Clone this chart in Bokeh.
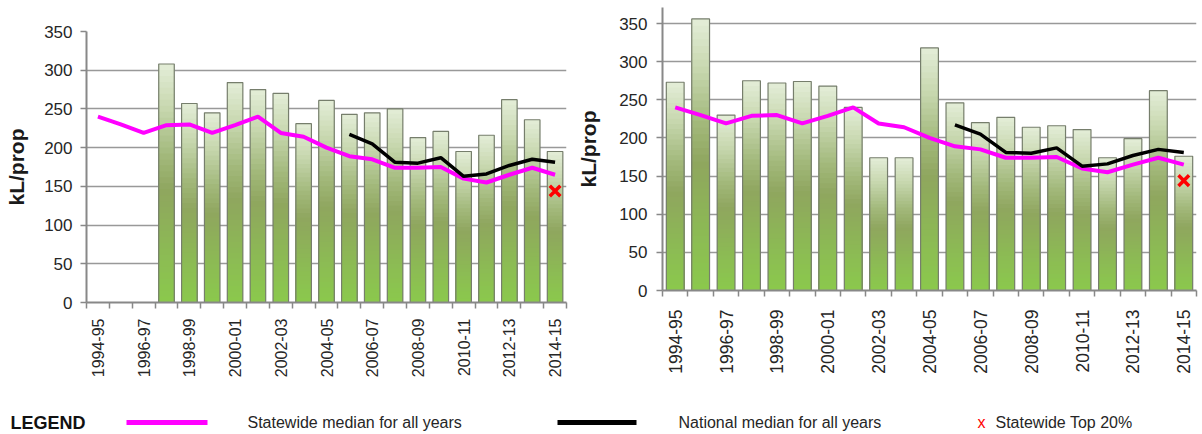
import math
from bokeh.plotting import figure
from bokeh.layouts import column, row
from bokeh.models import FixedTicker, Range1d
from bokeh.core.properties import value
from bokeh.embed import file_html
from bokeh.resources import INLINE

# ---------------- data ----------------
years = ["1994-95", "1995-96", "1996-97", "1997-98", "1998-99", "1999-00",
         "2000-01", "2001-02", "2002-03", "2003-04", "2004-05", "2005-06",
         "2006-07", "2007-08", "2008-09", "2009-10", "2010-11", "2011-12",
         "2012-13", "2013-14", "2014-15"]
left_usage = [None, None, None, 308, 257, 245, 284, 275, 270, 231, 261,
              243, 245, 250, 213, 221, 195, 216, 262, 236, 195]
right_usage = [273, 356, 230, 275, 272, 274, 268, 240, 174, 174, 318,
               246, 220, 227, 214, 216, 211, 174, 199, 262, 176]
statewide_median = [240, 230, 219, 229, 230, 219, 229, 240, 219, 214, 200,
                    189, 185, 174, 174, 175, 160, 155, 165, 174, 165]
national_median = [None] * 11 + [217, 205, 181, 180, 187, 163, 166, 177, 185, 181]
top20_year = "2014-15"
top20_value = 144
y_ticks = [0, 50, 100, 150, 200, 250, 300, 350]
y_label = "kL/prop"
legend_title = "LEGEND"
legend_labels = ["Statewide median for all years", "National median for all years",
                 "Statewide Top 20%"]

# ---------------- style ----------------
FONT = "Liberation Sans"
TEXT = "#262626"
GRID = "#999999"
AXIS = "#888888"
MAGENTA = "#ff00ff"
STOPS = [(0.0, (139, 201, 76)), (0.2, (140, 187, 84)), (0.47, (143, 166, 94)),
         (0.62, (163, 185, 124)), (0.82, (200, 216, 176)), (1.0, (228, 237, 216))]


def grad(f):
    for (f0, c0), (f1, c1) in zip(STOPS[:-1], STOPS[1:]):
        if f <= f1:
            t = (f - f0) / (f1 - f0)
            return "#%02x%02x%02x" % tuple(round(a + (b - a) * t) for a, b in zip(c0, c1))
    return "#%02x%02x%02x" % STOPS[-1][1]


def nanify(vals):
    return [float("nan") if v is None else v for v in vals]


def panel(usage, width, height, mbl, mbr, mbt, mbb, y_end, bar_w, xfont, xstand, ystand, lstand):
    n = len(years)
    idx = list(range(n))
    p = figure(width=width, height=height,
               x_range=Range1d(-0.5, n - 0.5), y_range=Range1d(0, y_end),
               output_backend="svg", toolbar_location=None,
               min_border_left=mbl, min_border_right=mbr,
               min_border_top=mbt, min_border_bottom=mbb)
    p.frame_align = False
    p.outline_line_color = None
    p.xgrid.visible = False
    p.ygrid.ticker = FixedTicker(ticks=y_ticks)
    p.ygrid.grid_line_color = GRID
    p.ygrid.grid_line_width = 1.6

    # gradient-filled bars (painted tallest slice first)
    N = 40
    bar_x = [i for i in idx if usage[i] is not None]
    bar_v = [usage[i] for i in bar_x]
    xs, tops, cols = [], [], []
    for k in range(N):
        f = 1 - k / N
        for i, v in zip(bar_x, bar_v):
            xs.append(i)
            tops.append(v * f)
            cols.append(grad(f - 0.5 / N))
    p.vbar(x=xs, top=tops, bottom=0, width=bar_w, fill_color=cols, line_color=None)
    p.vbar(x=bar_x, top=bar_v, bottom=0, width=bar_w, fill_color=None,
           line_color="#767e6c", line_width=1.2)

    p.line(idx, statewide_median, line_color=MAGENTA, line_width=4)
    p.line(idx, nanify(national_median), line_color="#000000", line_width=3.5)
    p.scatter([years.index(top20_year)], [top20_value], marker="x", size=15,
              line_color="#ff0000", line_width=3.5)

    xa = p.xaxis[0]
    xa.ticker = FixedTicker(ticks=idx[::2], minor_ticks=[i - 0.5 for i in range(n + 1)])
    xa.major_label_overrides = {i: years[i] for i in idx[::2]}
    xa.major_label_orientation = math.pi / 2
    xa.major_tick_out = 0
    xa.major_tick_in = 0
    xa.minor_tick_out = 6
    xa.minor_tick_in = 0
    xa.minor_tick_line_color = AXIS
    xa.minor_tick_line_width = 1.5
    xa.axis_line_color = AXIS
    xa.axis_line_width = 2
    xa.major_label_text_font = FONT
    xa.major_label_text_font_size = xfont
    xa.major_label_text_color = TEXT
    xa.major_label_standoff = xstand

    ya = p.yaxis[0]
    ya.ticker = FixedTicker(ticks=y_ticks, minor_ticks=[])
    ya.major_tick_out = 6
    ya.major_tick_in = 0
    ya.major_tick_line_color = AXIS
    ya.major_tick_line_width = 1.5
    ya.axis_line_color = AXIS
    ya.axis_line_width = 2
    ya.major_label_text_font = FONT
    ya.major_label_text_font_size = "17px"
    ya.major_label_text_color = TEXT
    ya.major_label_standoff = ystand
    ya.axis_label = y_label
    ya.axis_label_text_font = FONT
    ya.axis_label_text_font_style = "bold"
    ya.axis_label_text_font_size = "21px"
    ya.axis_label_text_color = "#1a1a1a"
    ya.axis_label_standoff = lstand
    return p


H = 380
p1 = panel(left_usage, 574, H, 86, 8, 31, H - 302, 350, 0.68, "16px", 10, 8, 13)
p2 = panel(right_usage, 624, H, 81, 2, 7, H - 290, 371, 0.70, "17.5px", 13, 9, 16)

# ---------------- legend strip ----------------
LW, LH = 1198, 54
leg = figure(width=LW, height=LH, x_range=Range1d(0, LW), y_range=Range1d(0, LH),
             output_backend="svg", toolbar_location=None, min_border=0,
             x_axis_location=None, y_axis_location=None)
leg.outline_line_color = None
leg.grid.visible = False
ly = 12
leg.text(x=[10], y=[ly], text=[legend_title], text_font=value(FONT), text_font_style="bold",
         text_font_size="18px", text_baseline="middle", text_color="#111111")
leg.segment(x0=[126], y0=[ly], x1=[207], y1=[ly], line_color=MAGENTA, line_width=5)
leg.text(x=[247], y=[ly], text=[legend_labels[0]], text_font=value(FONT),
         text_font_size="16px", text_baseline="middle", text_color=TEXT)
leg.segment(x0=[557], y0=[ly], x1=[636], y1=[ly], line_color="#000000", line_width=5)
leg.text(x=[678], y=[ly], text=[legend_labels[1]], text_font=value(FONT),
         text_font_size="16px", text_baseline="middle", text_color=TEXT)
leg.text(x=[977], y=[ly], text=["x"], text_font=value(FONT),
         text_font_size="16px", text_baseline="middle", text_color="#ff0000")
leg.text(x=[995], y=[ly], text=[legend_labels[2]], text_font=value(FONT),
         text_font_size="16px", text_baseline="middle", text_color=TEXT)

layout = column(row(p1, p2), leg)
open("out.html", "w").write(file_html(layout, INLINE))
